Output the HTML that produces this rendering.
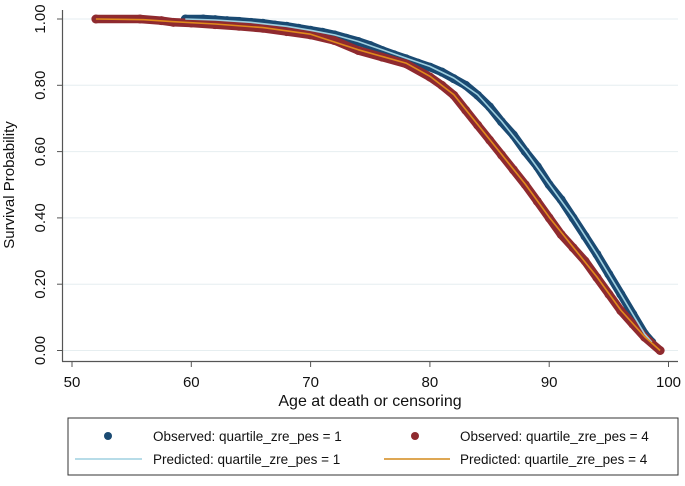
<!DOCTYPE html>
<html><head><meta charset="utf-8"><style>
body{margin:0;background:#fff;}
svg text{font-family:"Liberation Sans",Arial,sans-serif;fill:#111;}
</style></head><body>
<svg id="chart" width="685" height="481" viewBox="0 0 685 481">
<g id="grid"></g>
<g id="axes"></g>
<g id="series"></g>
<text x="14" y="185" font-size="15" text-anchor="middle" transform="rotate(-90 14 185)">Survival Probability</text>
<text x="370" y="406" font-size="16" text-anchor="middle">Age at death or censoring</text>
<g>
<rect x="68" y="418" width="610" height="57" fill="#fff" stroke="#333" stroke-width="1"/>
<circle cx="108" cy="436" r="4" fill="#1a4a72"/>
<text x="153" y="441" font-size="13.5">Observed: quartile_zre_pes = 1</text>
<circle cx="415" cy="436" r="4" fill="#8f2a2f"/>
<text x="460" y="441" font-size="13.5">Observed: quartile_zre_pes = 4</text>
<line x1="75" y1="459" x2="142" y2="459" stroke="#9fd0e0" stroke-width="1.5"/>
<text x="153" y="464" font-size="13.5">Predicted: quartile_zre_pes = 1</text>
<line x1="384" y1="459" x2="450" y2="459" stroke="#d48a1c" stroke-width="1.5"/>
<text x="460" y="464" font-size="13.5">Predicted: quartile_zre_pes = 4</text>
</g>
</svg>
<script>
const xTicks=[50,60,70,80,90,100];
const yTicks=[0,0.2,0.4,0.6,0.8,1.0];
const yTickLabels=["0.00","0.20","0.40","0.60","0.80","1.00"];
const obs1Age=[59.5,61,62,63,64,65,66,67,68,69,70,71,72,73,74,75,76,77,78,79,80,81,82,83,84,85,86,87,88,89,90,91,92,93,94,95,96,97,98,98.6];
const obs1Surv=[1.0,1.0,0.998,0.995,0.993,0.99,0.987,0.982,0.978,0.972,0.966,0.96,0.952,0.942,0.932,0.92,0.905,0.892,0.88,0.867,0.855,0.84,0.82,0.8,0.77,0.735,0.69,0.65,0.6,0.555,0.5,0.455,0.4,0.345,0.29,0.23,0.17,0.11,0.05,0.025];
const obs4Age=[52,55.7,57.5,58.5,60,62,64,66,68,70,72,74,76,78,80,81,82,83,84,85,86,87,88,89,90,91,92,93,94,95,96,97,98,99.3];
const obs4Surv=[1.0,1.0,0.995,0.99,0.988,0.983,0.978,0.972,0.962,0.952,0.935,0.905,0.885,0.865,0.825,0.8,0.77,0.725,0.68,0.635,0.59,0.545,0.5,0.45,0.4,0.35,0.31,0.27,0.22,0.17,0.12,0.08,0.04,0.0];
const pred1Age=[59.5,62,65,68,70,72,74,76,78,80,82,84,86,88,90,92,94,96,98,98.6];
const pred1Surv=[1.0,0.997,0.99,0.978,0.966,0.952,0.932,0.907,0.882,0.857,0.822,0.772,0.692,0.602,0.502,0.402,0.29,0.17,0.05,0.025];
const pred4Age=[52,56,58.5,62,66,70,74,78,80,82,84,86,88,90,92,94,96,98,99.3];
const pred4Surv=[1.0,0.998,0.992,0.985,0.974,0.954,0.907,0.867,0.827,0.772,0.682,0.592,0.502,0.402,0.312,0.222,0.122,0.042,0.0];
const NS="http://www.w3.org/2000/svg";
const x=a=>72+(a-50)*11.93;
const y=s=>350.5-s*331.5;
function mk(tag,at,parent){const e=document.createElementNS(NS,tag);for(const k in at)e.setAttribute(k,at[k]);parent.appendChild(e);return e;}
const grid=document.getElementById('grid'),axes=document.getElementById('axes'),ser=document.getElementById('series');
yTicks.forEach((t,i)=>{
 const g=mk('line',{x1:63,x2:678,y1:y(t),y2:y(t),stroke:'#e6eef0','stroke-width':1},grid);
 
 
 const tk=mk('line',{x1:57,x2:63,y1:y(t),y2:y(t),stroke:'#555','stroke-width':1},axes);
 
 
 const tx=mk('text',{x:45,y:y(t),'font-size':15,'text-anchor':'middle',transform:`rotate(-90 45 ${y(t)})`},axes);
 tx.textContent=yTickLabels[i];
 
 
});
const ya=mk('line',{x1:62.5,x2:62.5,y1:10,y2:361.5,stroke:'#555','stroke-width':1.2},axes);


const xa=mk('line',{x1:62,x2:678,y1:361.5,y2:361.5,stroke:'#555','stroke-width':1.2},axes);


xTicks.forEach(t=>{
 const tk=mk('line',{x1:x(t),x2:x(t),y1:361.5,y2:367,stroke:'#555','stroke-width':1},axes);
 
 
 const tx=mk('text',{x:x(t),y:387,'font-size':15,'text-anchor':'middle'},axes);
 tx.textContent=t;
 
 
});
function pts(A,S){return A.map((a,i)=>x(a).toFixed(1)+','+y(S[i]).toFixed(1)).join(' ');}
function obs(A,S,col,name){
 const p=mk('polyline',{points:pts(A,S),fill:'none',stroke:col,'stroke-width':8.5,'stroke-linejoin':'round','stroke-linecap':'round'},ser);
 
 
 A.forEach((a,i)=>{
  const c=mk('circle',{cx:x(a),cy:y(S[i]),r:4.5,fill:col},ser);
  
  
 });
}
function pred(A,S,col,name){
 const p=mk('polyline',{points:pts(A,S),fill:'none',stroke:col,'stroke-width':1.6,'stroke-linejoin':'round'},ser);
 
 
}
obs(obs1Age,obs1Surv,'#1a4a72','observed-q1');
obs(obs4Age,obs4Surv,'#8f2a2f','observed-q4');
pred(pred1Age,pred1Surv,'#9fd0e0','predicted-q1-line');
pred(pred4Age,pred4Surv,'#e08a1c','predicted-q4-line');
</script>
</body></html>
